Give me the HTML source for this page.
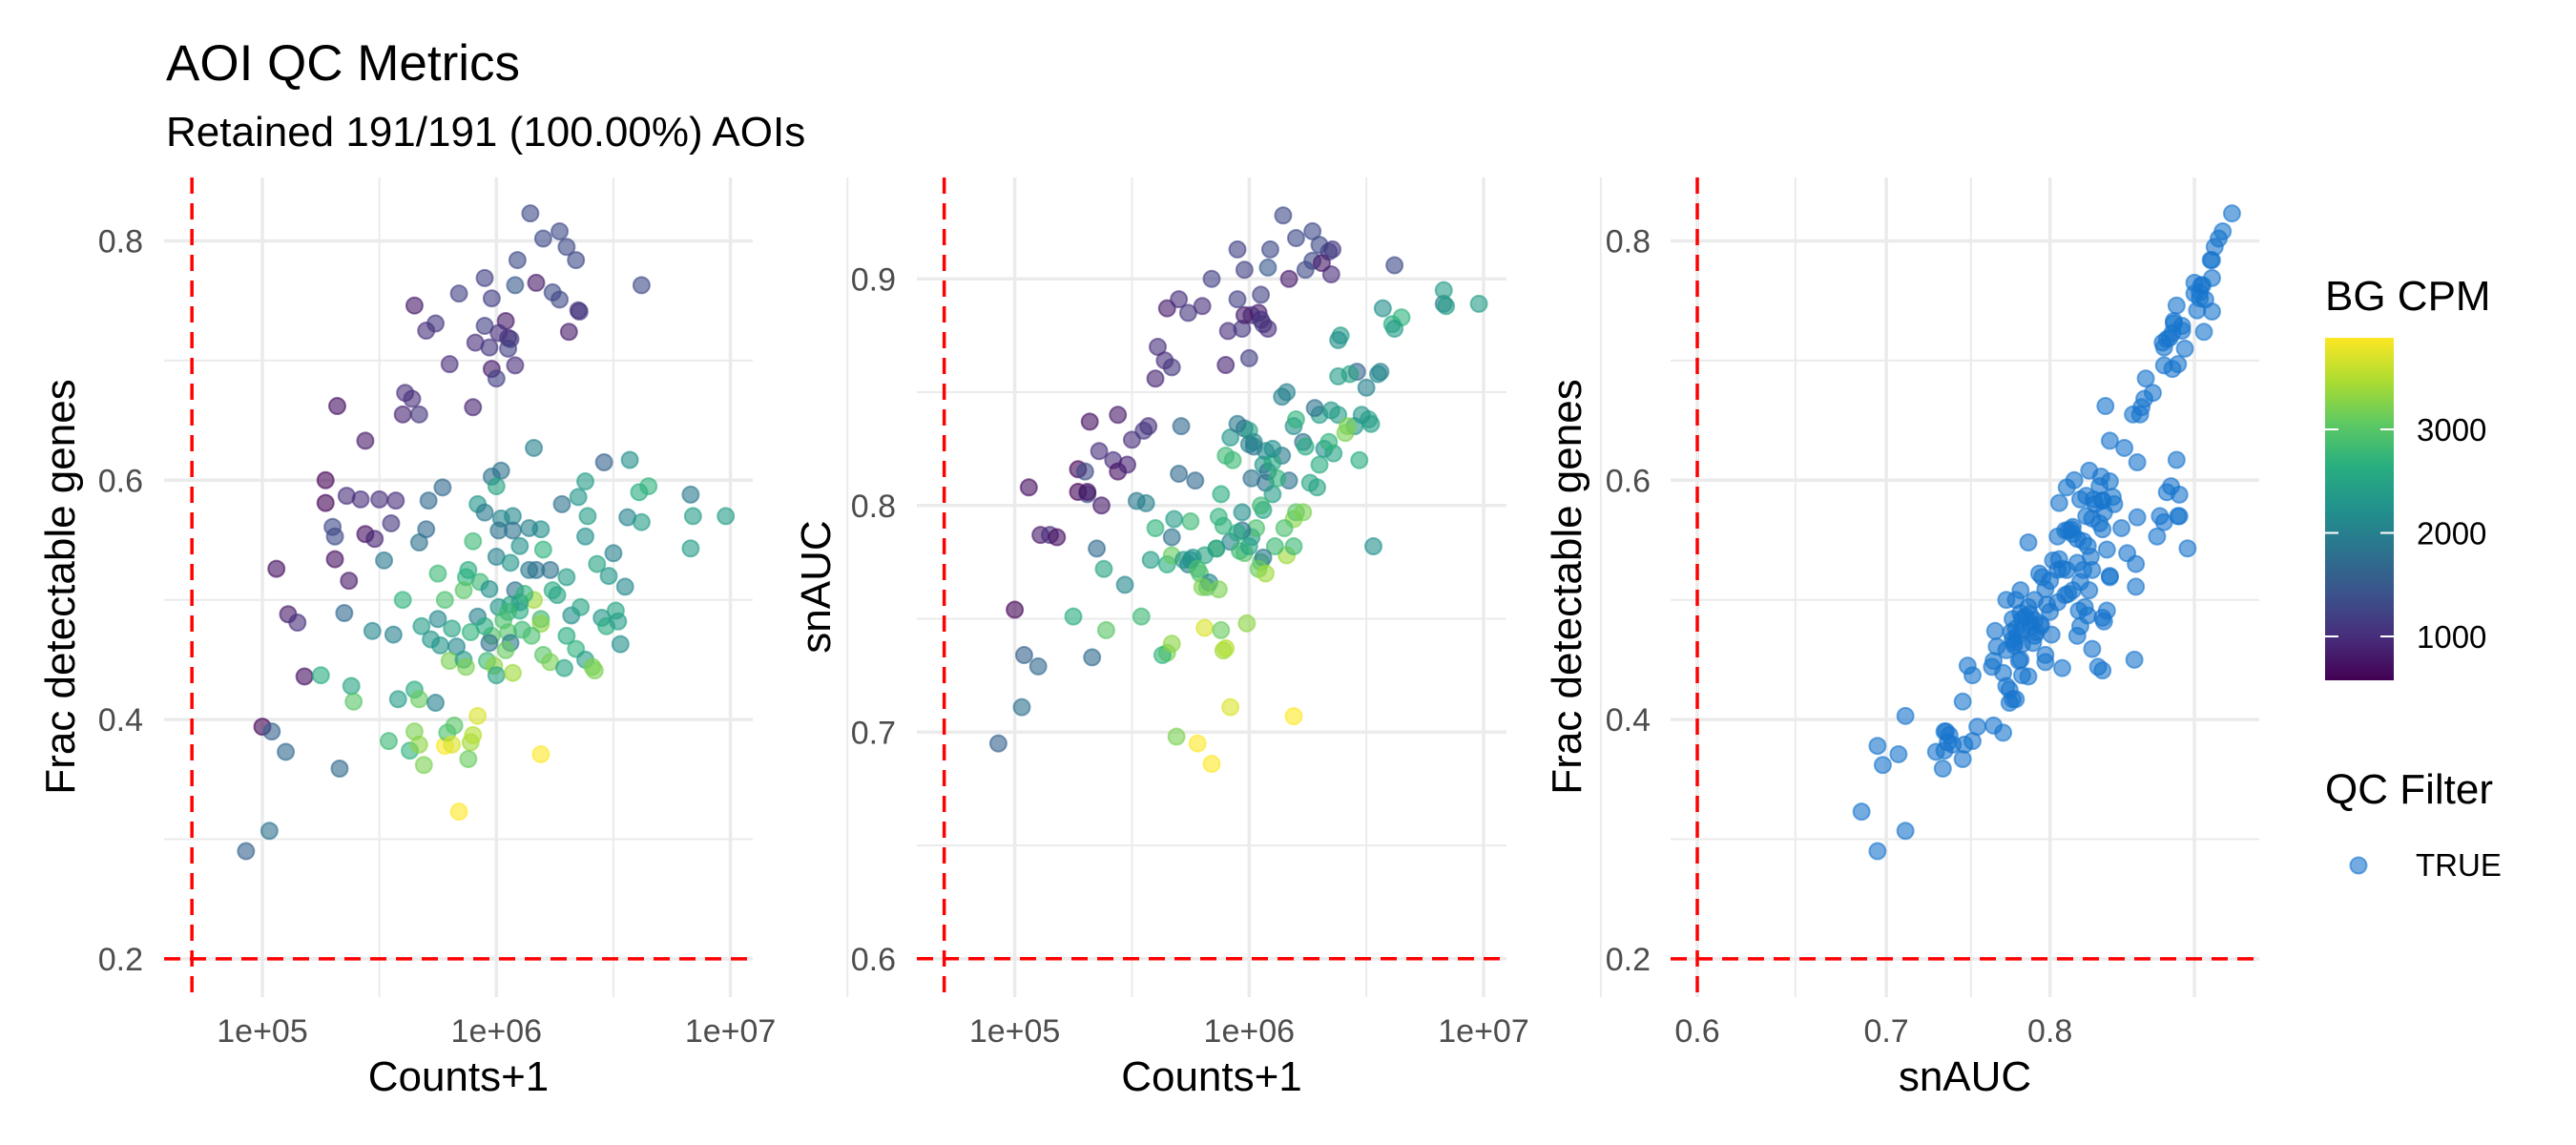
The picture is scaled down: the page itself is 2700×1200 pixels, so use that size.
<!DOCTYPE html>
<html><head><meta charset="utf-8"><title>AOI QC Metrics</title>
<style>
html,body{margin:0;padding:0;background:#fff;}
svg{display:block;font-family:"Liberation Sans",Arial,sans-serif;}
</style></head>
<body>
<svg id="chart" width="2700" height="1200" viewBox="0 0 2700 1200" xmlns="http://www.w3.org/2000/svg">
  <rect width="2700" height="1200" fill="#fff"/>
  <text x="174" y="84" font-size="53" fill="#000">AOI QC Metrics</text>
  <text x="174" y="153" font-size="44" fill="#000">Retained 191/191 (100.00%) AOIs</text>
  <g id="grids"></g>
  <g id="points"></g>
  <g id="refs"></g>
  <g id="labels"></g>
  <g id="legend">
    <defs>
      <linearGradient id="viridisGrad" x1="0" y1="1" x2="0" y2="0">
        <stop offset="0" stop-color="#440154"/><stop offset="0.125" stop-color="#472d7b"/>
        <stop offset="0.25" stop-color="#3b528b"/><stop offset="0.375" stop-color="#2c728e"/>
        <stop offset="0.5" stop-color="#21918c"/><stop offset="0.625" stop-color="#28ae80"/>
        <stop offset="0.75" stop-color="#5ec962"/><stop offset="0.875" stop-color="#addc30"/>
        <stop offset="1" stop-color="#fde725"/>
      </linearGradient>
    </defs>
    <text x="2437" y="325" font-size="44" fill="#000">BG CPM</text>
    <rect x="2437" y="354" width="72" height="359" fill="url(#viridisGrad)"/>
    <g id="cbticks"></g>
    <text x="2437" y="842" font-size="44" fill="#000">QC Filter</text>
    <circle cx="2472" cy="907" r="8.5" fill="rgba(24,116,205,0.6)" stroke="rgba(24,116,205,0.6)" stroke-width="2"/>
    <text x="2532" y="918" font-size="33" fill="#000">TRUE</text>
  </g>
</svg>
<script>
// ---- data (one entry per AOI) ----
const log10Counts = [6.145,6.20,6.27,6.30,6.34,6.09,6.17,6.08,6.62,6.24,6.27,6.35,6.355,5.95,5.98,5.84,5.65,5.70,5.74,5.95,6.04,6.01,6.05,6.06,6.05,5.91,5.97,6.31,6.08,5.80,5.98,6.00,5.61,5.64,5.60,5.67,5.90,5.32,5.44,5.27,5.27,5.36,5.42,5.50,5.57,5.30,5.31,5.44,5.48,5.55,5.31,5.37,5.06,5.11,5.15,5.18,5.00,5.04,5.10,5.33,5.03,4.93,5.35,5.52,5.47,5.56,5.25,5.38,5.39,5.58,5.65,5.67,5.74,5.54,5.65,5.63,5.67,5.69,5.78,5.79,5.82,5.81,5.89,5.90,5.92,5.88,5.84,6.19,5.71,5.77,5.70,5.67,6.16,5.98,6.02,6.00,5.92,5.95,6.02,6.07,6.01,6.07,5.90,6.19,6.20,6.00,6.06,6.14,6.17,6.23,6.30,6.28,6.35,6.38,6.46,6.57,6.61,6.65,6.39,6.38,6.56,6.62,6.83,6.84,6.98,6.83,6.43,6.50,6.55,5.75,5.87,5.93,5.86,5.97,6.08,6.24,6.26,6.01,6.06,6.10,6.16,6.03,5.92,5.75,5.68,5.81,5.89,5.98,6.05,6.11,6.19,6.19,6.32,6.36,6.45,6.51,6.47,6.52,6.53,5.72,5.76,5.83,5.97,6.06,6.04,5.80,5.86,5.87,5.96,5.99,6.00,6.07,6.20,6.23,6.29,6.34,6.38,6.41,6.42,6.10,6.12,6.05,5.95,6.15,5.88,6.30,6.10,5.78,6.14,5.60,6.48];
const fracDetectable = [0.823,0.802,0.808,0.795,0.784,0.784,0.765,0.763,0.763,0.757,0.751,0.742,0.741,0.769,0.752,0.756,0.746,0.725,0.731,0.729,0.733,0.723,0.719,0.718,0.710,0.715,0.711,0.724,0.696,0.697,0.693,0.685,0.673,0.668,0.655,0.655,0.661,0.662,0.633,0.600,0.581,0.587,0.584,0.584,0.583,0.561,0.553,0.555,0.551,0.564,0.534,0.516,0.526,0.488,0.481,0.436,0.394,0.390,0.373,0.359,0.307,0.290,0.489,0.533,0.474,0.471,0.437,0.428,0.415,0.417,0.425,0.417,0.414,0.382,0.390,0.374,0.379,0.362,0.378,0.389,0.395,0.379,0.381,0.387,0.403,0.367,0.323,0.371,0.583,0.594,0.559,0.548,0.627,0.603,0.608,0.595,0.580,0.573,0.568,0.570,0.558,0.558,0.549,0.559,0.542,0.536,0.531,0.525,0.525,0.525,0.519,0.580,0.586,0.599,0.615,0.617,0.590,0.595,0.570,0.553,0.569,0.565,0.588,0.570,0.570,0.543,0.530,0.539,0.511,0.522,0.519,0.515,0.508,0.509,0.508,0.508,0.504,0.494,0.496,0.491,0.500,0.483,0.486,0.484,0.478,0.476,0.473,0.470,0.473,0.475,0.484,0.480,0.487,0.494,0.485,0.491,0.478,0.482,0.463,0.467,0.462,0.461,0.464,0.464,0.458,0.449,0.450,0.444,0.449,0.445,0.437,0.439,0.454,0.448,0.443,0.459,0.450,0.444,0.441,0.498,0.505,0.490,0.478,0.470,0.525,0.470,0.545,0.500,0.560,0.500,0.520];
const bgCpm = [1300,1300,1300,1300,1300,1300,800,1500,1300,1300,1300,1000,1100,1200,1200,1200,800,1000,1100,1200,800,1000,1000,1100,1200,1000,1100,800,1000,1000,800,1200,1000,1000,900,1100,900,700,800,600,600,1000,1000,1000,1000,1300,1300,700,900,1100,700,800,700,800,1000,700,600,1600,1700,1700,1800,1600,1700,1900,2100,2000,2600,2500,3000,2400,2600,3100,2000,2800,3200,2700,3300,3200,3900,2900,3000,3700,3400,3500,3700,3100,3900,3900,1700,1700,1700,1800,2000,1800,1800,2500,2300,1900,2100,2100,1800,1800,2800,2200,2700,2000,2300,1900,1800,1800,2400,1800,2300,2400,1600,2200,2600,2700,2400,2200,2000,2400,1900,2400,2400,2400,2500,2000,2100,2800,2700,2800,3000,2200,1800,2600,2500,2300,2500,2600,3400,2900,2000,2100,2400,2500,2700,3000,3000,2800,2800,3300,2200,2500,2300,2500,2600,2400,2200,2300,2300,2100,1800,1900,3100,3200,2400,3200,2800,3300,2500,3400,3000,3200,2500,2700,2400,3200,3200,2400,2700,2800,2600,2900,2600,2600,2200,2900,2000,2700,2300];
const snAUC = [0.928,0.918,0.921,0.915,0.912,0.913,0.900,0.905,0.906,0.904,0.908,0.902,0.913,0.913,0.904,0.900,0.887,0.891,0.885,0.891,0.885,0.884,0.882,0.880,0.893,0.877,0.878,0.907,0.878,0.888,0.884,0.865,0.870,0.864,0.856,0.861,0.862,0.837,0.840,0.816,0.806,0.824,0.820,0.829,0.835,0.815,0.805,0.815,0.818,0.833,0.806,0.800,0.808,0.787,0.787,0.786,0.754,0.734,0.729,0.733,0.711,0.695,0.781,0.802,0.765,0.801,0.751,0.772,0.745,0.776,0.774,0.778,0.774,0.751,0.735,0.734,0.739,0.698,0.695,0.770,0.764,0.746,0.736,0.737,0.711,0.745,0.686,0.707,0.835,0.811,0.814,0.786,0.850,0.834,0.826,0.833,0.830,0.836,0.828,0.824,0.812,0.810,0.822,0.835,0.838,0.827,0.818,0.822,0.811,0.828,0.840,0.843,0.842,0.840,0.859,0.887,0.880,0.883,0.875,0.873,0.859,0.878,0.889,0.888,0.889,0.895,0.858,0.852,0.858,0.793,0.795,0.820,0.781,0.797,0.815,0.826,0.810,0.786,0.798,0.819,0.778,0.790,0.784,0.776,0.794,0.778,0.791,0.779,0.775,0.782,0.782,0.794,0.825,0.823,0.835,0.838,0.820,0.836,0.782,0.776,0.777,0.766,0.789,0.777,0.772,0.764,0.781,0.763,0.780,0.748,0.782,0.770,0.797,0.797,0.808,0.828,0.857,0.832,0.835,0.805,0.812,0.800,0.788,0.790,0.805,0.818,0.825,0.772,0.848,0.790,0.840];

// axis ticks
const countTicks = [5,6,7];
const countTickLabels = ["1e+05","1e+06","1e+07"];
const fracTicks = [0.2,0.4,0.6,0.8];
const fracMinor = [0.3,0.5,0.7];
const aucTicksY = [0.6,0.7,0.8,0.9];
const aucMinorY = [0.65,0.75,0.85];
const aucTicksX = [0.6,0.7,0.8,0.9];
const aucTickLabelsX = ["0.6","0.7","0.8",""];
const aucMinorX = [0.65,0.75];
const cbTicks = [1000,2000,3000];
const bgMin = 576, bgMax = 3885;

const NS="http://www.w3.org/2000/svg";
function mk(tag, attrs, parent, txt){const e=document.createElementNS(NS,tag);for(const k in attrs)e.setAttribute(k,attrs[k]);if(txt!==undefined)e.textContent=txt;parent.appendChild(e);return e;}

const P1={x0:172,x1:789,y0:186,y1:1045};
const P2={x0:961,x1:1579,y0:186,y1:1045};
const P3={x0:1751,x1:2368,y0:186,y1:1045};
const x1s=l=>275+(l-5)*245.3;
const x2s=l=>1063.6+(l-5)*245.7;
const yFrac=v=>252.5+(0.8-v)*1254;
const yAuc=v=>292.3+(0.9-v)*2375;
const x3s=v=>1779+(Math.log10(v)-Math.log10(0.6))*2959;

const vir=["#440154","#472d7b","#3b528b","#2c728e","#21918c","#28ae80","#5ec962","#addc30","#fde725"];
function hex(h){return [parseInt(h.slice(1,3),16),parseInt(h.slice(3,5),16),parseInt(h.slice(5,7),16)];}
function viridis(v){let t=(v-bgMin)/(bgMax-bgMin);t=Math.max(0,Math.min(1,t));const p=t*8,i=Math.min(7,Math.floor(p)),f=p-i;const a=hex(vir[i]),b=hex(vir[i+1]);return a.map((c,k)=>Math.round(c+(b[k]-c)*f));}

const grids=document.getElementById('grids'), pts=document.getElementById('points'), refs=document.getElementById('refs'), labs=document.getElementById('labels');

function hline(P,y,w,name){const e=mk('line',{x1:P.x0,x2:P.x1,y1:y,y2:y,stroke:'#ebebeb','stroke-width':w},grids);}
function vline(P,x,w,name){const e=mk('line',{x1:x,x2:x,y1:P.y0,y2:P.y1,stroke:'#ebebeb','stroke-width':w},grids);}
function ylab(x,y,t){const e=mk('text',{x:x,y:y+12,'font-size':34,fill:'#4d4d4d','text-anchor':'end'},labs,t);}
function xlab(x,t){const e=mk('text',{x:x,y:1092,'font-size':34,fill:'#4d4d4d','text-anchor':'middle'},labs,t);}

fracMinor.forEach(v=>hline(P1,yFrac(v),2,'p1-minor-gridline'));
fracTicks.forEach(v=>{hline(P1,yFrac(v),3.5,'p1-major-gridline');ylab(150,yFrac(v),String(v));});
countTicks.forEach((l,i)=>{vline(P1,x1s(l),3.5,'p1-major-gridline');vline(P1,x1s(l+0.5),2,'p1-minor-gridline');xlab(x1s(l),countTickLabels[i]);});
aucMinorY.forEach(v=>hline(P2,yAuc(v),2,'p2-minor-gridline'));
aucTicksY.forEach(v=>{hline(P2,yAuc(v),3.5,'p2-major-gridline');ylab(939,yAuc(v),String(v));});
countTicks.forEach((l,i)=>{vline(P2,x2s(l),3.5,'p2-major-gridline');vline(P2,x2s(l+0.5),2,'p2-minor-gridline');xlab(x2s(l),countTickLabels[i]);});
fracMinor.forEach(v=>hline(P3,yFrac(v),2,'p3-minor-gridline'));
fracTicks.forEach(v=>{hline(P3,yFrac(v),3.5,'p3-major-gridline');ylab(1730,yFrac(v),String(v));});
aucMinorX.forEach(v=>vline(P3,x3s(v),2,'p3-minor-gridline'));
aucTicksX.forEach((v,i)=>{vline(P3,x3s(v),3.5,'p3-major-gridline');if(aucTickLabelsX[i])xlab(x3s(v),aucTickLabelsX[i]);});

for(let i=0;i<log10Counts.length;i++){
  const c=viridis(bgCpm[i]);const col=`rgba(${c[0]},${c[1]},${c[2]},0.6)`;
  let e=mk('circle',{cx:x1s(log10Counts[i]),cy:yFrac(fracDetectable[i]),r:8.5,fill:col,stroke:col,'stroke-width':2},pts);
  
  
  e=mk('circle',{cx:x2s(log10Counts[i]),cy:yAuc(snAUC[i]),r:8.5,fill:col,stroke:col,'stroke-width':2},pts);
  
  
  e=mk('circle',{cx:x3s(snAUC[i]),cy:yFrac(fracDetectable[i]),r:8.5,fill:'rgba(24,116,205,0.6)',stroke:'rgba(24,116,205,0.6)','stroke-width':2},pts);
  
  
}

function dash(xa,ya,xb,yb,name){const e=mk('line',{x1:xa,y1:ya,x2:xb,y2:yb,stroke:'#ff0000','stroke-width':3.5,'stroke-dasharray':'17 10'},refs);}
dash(P1.x0,yFrac(0.2),P1.x1,yFrac(0.2),'p1-frac-threshold');
dash(x1s(Math.log10(5e4)),P1.y0,x1s(Math.log10(5e4)),P1.y1,'p1-counts-threshold');
dash(P2.x0,yAuc(0.6),P2.x1,yAuc(0.6),'p2-auc-threshold');
dash(x2s(Math.log10(5e4)),P2.y0,x2s(Math.log10(5e4)),P2.y1,'p2-counts-threshold');
dash(P3.x0,yFrac(0.2),P3.x1,yFrac(0.2),'p3-frac-threshold');
dash(x3s(0.6),P3.y0,x3s(0.6),P3.y1,'p3-auc-threshold');

function xt(x,t,n){const e=mk('text',{x:x,y:1143,'font-size':44,fill:'#000','text-anchor':'middle'},labs,t);}
function yt(x,t,n){const e=mk('text',{x:0,y:0,'font-size':44,fill:'#000','text-anchor':'middle',transform:`translate(${x+15},615) rotate(-90)`},labs,t);}
xt((P1.x0+P1.x1)/2,'Counts+1','p1-x-axis-title');
xt((P2.x0+P2.x1)/2,'Counts+1','p2-x-axis-title');
xt((P3.x0+P3.x1)/2,'snAUC','p3-x-axis-title');
yt(63,'Frac detectable genes','p1-y-axis-title');
yt(855,'snAUC','p2-y-axis-title');
yt(1642,'Frac detectable genes','p3-y-axis-title');

const cbt=document.getElementById('cbticks');
const cbY=v=>713-(v-bgMin)/(bgMax-bgMin)*359;
cbTicks.forEach(v=>{
  let e=mk('line',{x1:2437,x2:2451,y1:cbY(v),y2:cbY(v),stroke:'#fff','stroke-width':2},cbt);
  
  
  e=mk('line',{x1:2495,x2:2509,y1:cbY(v),y2:cbY(v),stroke:'#fff','stroke-width':2},cbt);
  
  
  e=mk('text',{x:2533,y:cbY(v)+12,'font-size':33,fill:'#000'},cbt,String(v));
  
  
});
</script>
</body></html>
